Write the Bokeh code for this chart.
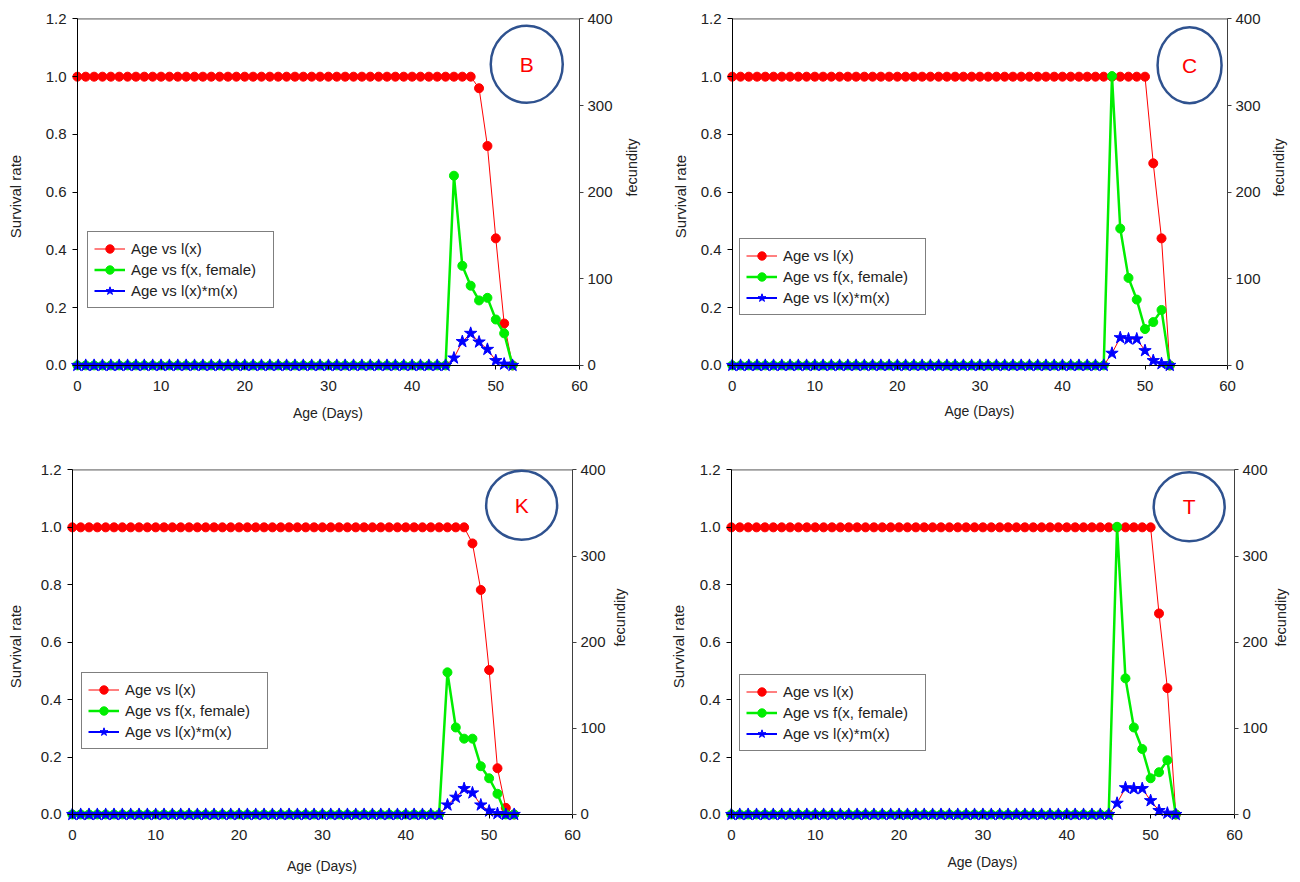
import math
from bokeh.plotting import figure
from bokeh.models import (Range1d, LinearAxis, FixedTicker, NumeralTickFormatter, Legend,
                          LegendItem, CustomJSTickFormatter)
from bokeh.layouts import column, row
from bokeh.embed import file_html
from bokeh.resources import INLINE
from bokeh.core.properties import value

# ---------------- data ----------------
AGES = [0, 1, 2, 3, 4, 5, 6, 7, 8, 9, 10, 11,
        12, 13, 14, 15, 16, 17, 18, 19, 20, 21, 22, 23,
        24, 25, 26, 27, 28, 29, 30, 31, 32, 33, 34, 35,
        36, 37, 38, 39, 40, 41, 42, 43, 44, 45, 46, 47,
        48, 49, 50, 51, 52, 53]

X_TICKS = [0, 10, 20, 30, 40, 50, 60]
Y_TICKS = [0.0, 0.2, 0.4, 0.6, 0.8, 1.0, 1.2]
F_TICKS = [0, 100, 200, 300, 400]
SERIES_NAMES = ["Age vs l(x)", "Age vs f(x, female)", "Age vs l(x)*m(x)"]
PANEL_LETTERS = ["B", "C", "K", "T"]

# Panel B (ages 0-52)
B_LX = [1.0, 1.0, 1.0, 1.0, 1.0, 1.0, 1.0, 1.0, 1.0, 1.0, 1.0, 1.0,
        1.0, 1.0, 1.0, 1.0, 1.0, 1.0, 1.0, 1.0, 1.0, 1.0, 1.0, 1.0,
        1.0, 1.0, 1.0, 1.0, 1.0, 1.0, 1.0, 1.0, 1.0, 1.0, 1.0, 1.0,
        1.0, 1.0, 1.0, 1.0, 1.0, 1.0, 1.0, 1.0, 1.0, 1.0, 1.0, 1.0,
        0.96, 0.76, 0.44, 0.145, 0.0]
B_FX = [0, 0, 0, 0, 0, 0, 0, 0, 0, 0, 0, 0,
        0, 0, 0, 0, 0, 0, 0, 0, 0, 0, 0, 0,
        0, 0, 0, 0, 0, 0, 0, 0, 0, 0, 0, 0,
        0, 0, 0, 0, 0, 0, 0, 0, 0,
        219, 115, 92, 75, 78, 53, 37, 0]
B_LXMX = [0, 0, 0, 0, 0, 0, 0, 0, 0, 0, 0, 0,
          0, 0, 0, 0, 0, 0, 0, 0, 0, 0, 0, 0,
          0, 0, 0, 0, 0, 0, 0, 0, 0, 0, 0, 0,
          0, 0, 0, 0, 0, 0, 0, 0, 0,
          8.5, 27.5, 37, 27, 18.5, 5.5, 1.5, 0]

# Panel C (ages 0-53)
C_LX = [1.0, 1.0, 1.0, 1.0, 1.0, 1.0, 1.0, 1.0, 1.0, 1.0, 1.0, 1.0,
        1.0, 1.0, 1.0, 1.0, 1.0, 1.0, 1.0, 1.0, 1.0, 1.0, 1.0, 1.0,
        1.0, 1.0, 1.0, 1.0, 1.0, 1.0, 1.0, 1.0, 1.0, 1.0, 1.0, 1.0,
        1.0, 1.0, 1.0, 1.0, 1.0, 1.0, 1.0, 1.0, 1.0, 1.0, 1.0, 1.0,
        1.0, 1.0, 1.0, 0.70, 0.44, 0.0]
C_FX = [0, 0, 0, 0, 0, 0, 0, 0, 0, 0, 0, 0,
        0, 0, 0, 0, 0, 0, 0, 0, 0, 0, 0, 0,
        0, 0, 0, 0, 0, 0, 0, 0, 0, 0, 0, 0,
        0, 0, 0, 0, 0, 0, 0, 0, 0, 0,
        334, 158, 101, 76, 42, 50, 64, 0]
C_LXMX = [0, 0, 0, 0, 0, 0, 0, 0, 0, 0, 0, 0,
          0, 0, 0, 0, 0, 0, 0, 0, 0, 0, 0, 0,
          0, 0, 0, 0, 0, 0, 0, 0, 0, 0, 0, 0,
          0, 0, 0, 0, 0, 0, 0, 0, 0, 0,
          14, 32, 30.5, 30.5, 17, 5.5, 2, 0]

# Panel K (ages 0-53)
K_LX = [1.0, 1.0, 1.0, 1.0, 1.0, 1.0, 1.0, 1.0, 1.0, 1.0, 1.0, 1.0,
        1.0, 1.0, 1.0, 1.0, 1.0, 1.0, 1.0, 1.0, 1.0, 1.0, 1.0, 1.0,
        1.0, 1.0, 1.0, 1.0, 1.0, 1.0, 1.0, 1.0, 1.0, 1.0, 1.0, 1.0,
        1.0, 1.0, 1.0, 1.0, 1.0, 1.0, 1.0, 1.0, 1.0, 1.0, 1.0, 1.0,
        0.944, 0.782, 0.503, 0.161, 0.023, 0.0]
K_FX = [0, 0, 0, 0, 0, 0, 0, 0, 0, 0, 0, 0,
        0, 0, 0, 0, 0, 0, 0, 0, 0, 0, 0, 0,
        0, 0, 0, 0, 0, 0, 0, 0, 0, 0, 0, 0,
        0, 0, 0, 0, 0, 0, 0, 0, 0,
        165, 101, 88, 88, 56, 42, 24, 0, 0]
K_LXMX = [0, 0, 0, 0, 0, 0, 0, 0, 0, 0, 0, 0,
          0, 0, 0, 0, 0, 0, 0, 0, 0, 0, 0, 0,
          0, 0, 0, 0, 0, 0, 0, 0, 0, 0, 0, 0,
          0, 0, 0, 0, 0, 0, 0, 0, 0,
          11, 20, 30, 25, 11, 4, 1, 0, 0]

# Panel T (ages 0-53)
T_LX = [1.0, 1.0, 1.0, 1.0, 1.0, 1.0, 1.0, 1.0, 1.0, 1.0, 1.0, 1.0,
        1.0, 1.0, 1.0, 1.0, 1.0, 1.0, 1.0, 1.0, 1.0, 1.0, 1.0, 1.0,
        1.0, 1.0, 1.0, 1.0, 1.0, 1.0, 1.0, 1.0, 1.0, 1.0, 1.0, 1.0,
        1.0, 1.0, 1.0, 1.0, 1.0, 1.0, 1.0, 1.0, 1.0, 1.0, 1.0, 1.0,
        1.0, 1.0, 1.0, 0.70, 0.44, 0.0]
T_FX = [0, 0, 0, 0, 0, 0, 0, 0, 0, 0, 0, 0,
        0, 0, 0, 0, 0, 0, 0, 0, 0, 0, 0, 0,
        0, 0, 0, 0, 0, 0, 0, 0, 0, 0, 0, 0,
        0, 0, 0, 0, 0, 0, 0, 0, 0, 0,
        334, 158, 101, 76, 42, 49, 63, 0]
T_LXMX = [0, 0, 0, 0, 0, 0, 0, 0, 0, 0, 0, 0,
          0, 0, 0, 0, 0, 0, 0, 0, 0, 0, 0, 0,
          0, 0, 0, 0, 0, 0, 0, 0, 0, 0, 0, 0,
          0, 0, 0, 0, 0, 0, 0, 0, 0, 0,
          13, 31, 30, 30, 16, 4.5, 1.5, 0]

# ---------------- style / layout ----------------
FONT = "Liberation Sans"
RED = "#FF0000"
GREEN = "#00EE00"
BLUE = "#0000FF"
RING = "#2F528F"
TXT = "#222222"

X_LO, X_HI = -0.7, 60.6
Y_LO, Y_HI = -0.035, 1.205

CFG = {
    "B": dict(bl=71, br=65, bt=16, bb=66, ys=19, xs=11, rs=16, leg=(16, 67), ring=(53.7, 1.043, 72, 77)),
    "C": dict(bl=76, br=68, bt=17, bb=66, ys=9, xs=9, rs=15, leg=(13, 60), ring=(55.4, 1.040, 64, 76)),
    "K": dict(bl=66, br=73, bt=27, bb=55, ys=14, xs=15, rs=11, leg=(15, 75), ring=(53.9, 1.077, 71, 69)),
    "T": dict(bl=75, br=61, bt=19, bb=58, ys=10, xs=11, rs=10, leg=(14, 73), ring=(54.6, 1.072, 71, 69)),
}


def label_axis(ax, title, standoff, label_standoff, title_size):
    """Side-panel axis that carries the tick labels and the title only."""
    ax.axis_label = title
    ax.axis_label_text_font = FONT
    ax.axis_label_text_font_size = title_size
    ax.axis_label_text_font_style = "normal"
    ax.axis_label_text_color = TXT
    ax.axis_label_standoff = standoff
    ax.major_label_text_font = FONT
    ax.major_label_text_font_size = "15px"
    ax.major_label_text_color = TXT
    ax.major_label_standoff = label_standoff
    ax.axis_line_color = None
    ax.major_tick_line_color = None
    ax.minor_tick_line_color = None
    ax.major_tick_in = 0
    ax.major_tick_out = 0


def line_axis(ticks, bounds, loc, color, tick_len, **kw):
    """Axis drawn at a fixed data location: axis line and tick marks only."""
    ax = LinearAxis(ticker=FixedTicker(ticks=ticks), bounds=bounds, fixed_location=loc,
                    formatter=CustomJSTickFormatter(code="return ''"), **kw)
    ax.major_label_text_font_size = "0px"
    ax.major_label_standoff = 0
    ax.axis_line_color = color
    ax.axis_line_width = 1
    ax.major_tick_line_color = color
    ax.minor_tick_line_color = None
    ax.major_tick_out = 0
    ax.major_tick_in = tick_len
    ax.axis_label = None
    return ax


def panel(ages, lx, fx, lxmx, letter):
    c = CFG[letter]
    scale = F_TICKS[-1] / Y_TICKS[-1]
    p = figure(width=650, height=441,
               x_range=Range1d(X_LO, X_HI), y_range=Range1d(Y_LO, Y_HI),
               output_backend="svg", toolbar_location=None,
               min_border_left=c["bl"], min_border_right=c["br"],
               min_border_top=c["bt"], min_border_bottom=c["bb"],
               outline_line_color=None,
               background_fill_color="white", border_fill_color="white")
    p.extra_y_ranges = {"fec": Range1d(Y_LO * scale, Y_HI * scale)}
    p.xgrid.visible = False
    p.ygrid.visible = False

    # label axes in the side panels
    xa = p.xaxis[0]
    xa.ticker = FixedTicker(ticks=X_TICKS)
    label_axis(xa, "Age (Days)", c["xs"], 5, "14px")

    ya = p.yaxis[0]
    ya.ticker = FixedTicker(ticks=Y_TICKS)
    ya.formatter = NumeralTickFormatter(format="0.0")
    label_axis(ya, "Survival rate", c["ys"], 5, "15px")

    ra = LinearAxis(y_range_name="fec", ticker=FixedTicker(ticks=F_TICKS))
    label_axis(ra, "fecundity", c["rs"], 3, "14.5px")
    ra.axis_label_orientation = math.pi / 2
    p.add_layout(ra, "right")

    # axis lines + tick marks at the data origin / edges
    p.add_layout(line_axis(X_TICKS, (X_TICKS[0], X_TICKS[-1]), Y_TICKS[0], "#000000", 4), "above")
    p.add_layout(line_axis(Y_TICKS, (Y_TICKS[0], Y_TICKS[-1]), X_TICKS[0], "#000000", 5), "right")
    p.add_layout(line_axis(F_TICKS, (F_TICKS[0], F_TICKS[-1]), X_TICKS[-1], "#404040", 4,
                           y_range_name="fec"), "left")

    # top frame line
    p.segment(x0=[X_TICKS[0]], y0=[Y_TICKS[-1]], x1=[X_TICKS[-1]], y1=[Y_TICKS[-1]],
              line_color="#555555", line_width=1)

    # l(x)
    r1l = p.line(ages, lx, line_color=RED, line_width=1)
    r1p = p.scatter(ages, lx, marker="circle", size=9, fill_color=RED, line_color=RED)

    # f(x, female)
    r2l = p.line(ages, fx, line_color=GREEN, line_width=2.5, y_range_name="fec")
    r2p = p.scatter(ages, fx, marker="circle", size=9, fill_color=GREEN, line_color=GREEN,
                    y_range_name="fec")

    # l(x)*m(x)
    k = next(i for i, v in enumerate(lxmx) if v > 0)
    r3l = p.line(ages[:k], lxmx[:k], line_color=BLUE, line_width=2, y_range_name="fec")
    p.line(ages[k - 1:], lxmx[k - 1:], line_color=RED, line_width=1, y_range_name="fec")
    r3p = p.scatter(ages, lxmx, marker="star", size=13, fill_color=BLUE, line_color=BLUE,
                    y_range_name="fec")

    # ring with panel letter
    cx, cy, w, h = c["ring"]
    p.ellipse(x=[cx], y=[cy], width=w, height=h, width_units="screen", height_units="screen",
              fill_color=None, line_color=RING, line_width=2.5)
    p.text(x=[cx], y=[cy], text=[letter], text_align="center", text_baseline="middle",
           text_color=RED, text_font=value(FONT), text_font_size="21px")

    leg = Legend(items=[
        LegendItem(label=SERIES_NAMES[0], renderers=[r1l, r1p]),
        LegendItem(label=SERIES_NAMES[1], renderers=[r2l, r2p]),
        LegendItem(label=SERIES_NAMES[2], renderers=[r3l, r3p]),
    ], location=c["leg"])
    leg.border_line_color = "#000000"
    leg.border_line_width = 1
    leg.background_fill_color = "white"
    leg.background_fill_alpha = 1.0
    leg.padding = 6
    leg.spacing = 0
    leg.margin = 0
    leg.glyph_width = 31
    leg.glyph_height = 21
    leg.label_height = 21
    leg.label_width = 136
    leg.label_standoff = 6
    leg.label_text_font = FONT
    leg.label_text_font_size = "15px"
    leg.label_text_color = TXT
    p.add_layout(leg)
    return p


pB = panel(AGES[:len(B_LX)], B_LX, B_FX, B_LXMX, PANEL_LETTERS[0])
pC = panel(AGES[:len(C_LX)], C_LX, C_FX, C_LXMX, PANEL_LETTERS[1])
pK = panel(AGES[:len(K_LX)], K_LX, K_FX, K_LXMX, PANEL_LETTERS[2])
pT = panel(AGES[:len(T_LX)], T_LX, T_FX, T_LXMX, PANEL_LETTERS[3])

layout = column(row(pB, pC), row(pK, pT))
open("out.html", "w").write(file_html(layout, INLINE))
